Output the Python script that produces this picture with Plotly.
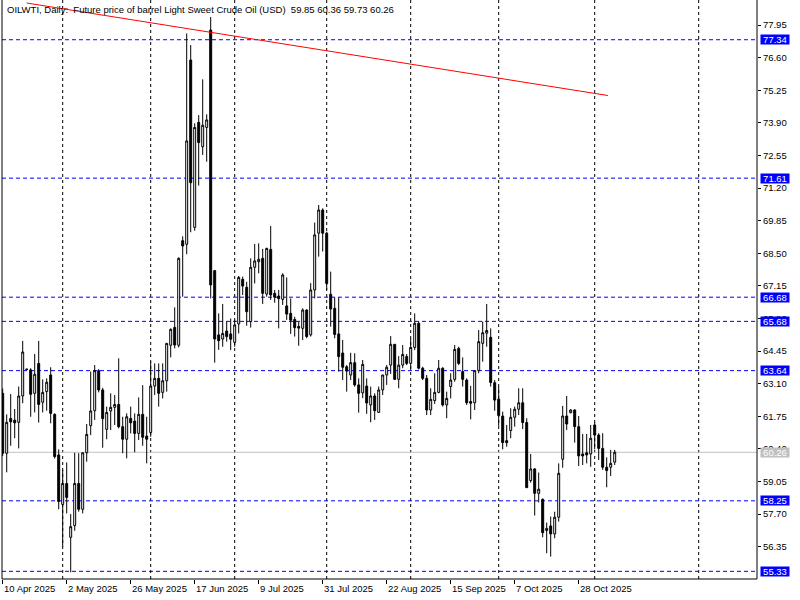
import plotly.graph_objects as go

# OHLC per daily bar (bar index 0 = 10 Apr 2025)
open_ = [62.70, 60.22, 61.66, 61.59, 61.50, 62.59, 63.70, 63.67, 62.70, 63.94,
         62.33, 62.77, 63.46, 61.83, 60.15, 58.10, 58.97, 56.74, 57.22, 58.97,
         57.90, 60.24, 61.36, 61.98, 63.64, 62.84, 61.21, 61.97, 62.12, 62.24,
         61.32, 60.80, 61.66, 61.55, 61.04, 61.83, 60.93, 61.08, 63.00, 63.32,
         62.74, 63.22, 64.69, 65.43, 64.69, 69.02, 68.87, 76.50, 69.57, 73.92,
         72.91, 73.71, 77.74, 67.78, 65.12, 64.95, 65.28, 65.16, 64.81, 65.57,
         67.42, 67.09, 65.67, 67.92, 68.15, 68.29, 66.81, 68.66, 66.84, 66.73,
         66.59, 66.32, 66.01, 65.76, 65.47, 65.39, 66.15, 65.12, 66.98, 69.33,
         70.29, 69.33, 66.80, 66.22, 65.16, 64.37, 63.80, 63.46, 63.97, 63.05,
         62.72, 63.00, 62.22, 62.59, 61.91, 62.84, 63.46, 63.87, 64.73, 63.28,
         63.87, 64.22, 63.94, 64.60, 65.60, 63.74, 63.32, 62.01, 62.40, 62.74,
         63.74, 62.22, 62.98, 63.28, 64.56, 63.60, 63.25, 62.36, 62.31, 63.64,
         64.77, 65.19, 65.02, 63.14, 62.46, 61.76, 60.74, 61.16, 61.71, 62.04,
         62.31, 61.49, 59.09, 59.57, 58.56, 58.31, 57.02, 57.21, 56.88, 57.57,
         59.97, 61.76, 61.90, 62.01, 61.32, 60.19, 60.24, 60.19, 61.39, 60.97,
         60.42, 59.64, 59.64, 59.85]
high = [62.90, 61.83, 62.67, 62.05, 62.98, 64.87, 63.72, 63.74, 64.33, 64.87,
        63.28, 63.32, 63.78, 61.87, 60.38, 59.53, 59.84, 57.70, 60.24, 60.22,
        60.24, 61.43, 63.60, 63.87, 63.70, 62.93, 62.15, 62.70, 62.63, 64.15,
        61.73, 61.87, 62.15, 61.87, 62.53, 63.04, 61.73, 64.01, 63.94, 63.94,
        63.94, 64.77, 65.39, 66.26, 68.33, 69.20, 77.60, 77.12, 73.88, 74.22,
        75.70, 74.25, 78.28, 67.81, 66.01, 66.40, 65.67, 65.80, 65.74, 67.56,
        67.53, 67.32, 68.29, 68.88, 68.91, 68.68, 68.73, 69.63, 66.98, 66.98,
        67.67, 67.50, 66.63, 65.87, 65.67, 66.22, 66.18, 67.26, 69.77, 70.50,
        70.36, 69.39, 67.74, 66.67, 66.67, 64.91, 63.87, 64.38, 64.36, 63.32,
        64.08, 63.32, 62.98, 62.70, 62.98, 63.46, 63.87, 65.07, 64.73, 64.24,
        64.70, 64.33, 64.98, 66.01, 65.67, 63.80, 63.46, 62.91, 63.53, 64.08,
        63.78, 62.77, 63.53, 64.70, 64.63, 64.19, 63.32, 63.01, 63.64, 65.32,
        65.67, 66.40, 65.39, 63.25, 62.98, 61.94, 61.39, 62.08, 62.15, 62.91,
        62.91, 61.67, 60.19, 59.60, 59.42, 58.35, 57.35, 57.60, 57.80, 59.80,
        62.18, 62.59, 62.04, 62.04, 61.76, 61.02, 61.02, 61.39, 61.49, 61.05,
        61.05, 60.05, 60.36, 60.36]
low = [60.10, 59.43, 60.53, 60.84, 60.42, 62.29, 63.66, 61.73, 61.91, 61.49,
       61.91, 61.98, 61.46, 60.00, 57.90, 56.35, 57.73, 55.29, 57.01, 57.80,
       57.73, 59.87, 60.97, 61.60, 62.74, 60.45, 60.80, 61.18, 61.39, 61.25,
       60.22, 60.01, 61.04, 60.26, 60.77, 60.53, 59.80, 60.90, 62.63, 62.15,
       62.49, 62.77, 64.19, 64.56, 64.60, 66.70, 68.46, 69.37, 69.43, 71.30,
       72.57, 72.29, 66.63, 63.97, 64.50, 64.63, 64.84, 64.49, 64.63, 65.18,
       66.77, 65.50, 65.42, 67.25, 67.67, 66.40, 66.70, 66.57, 66.45, 65.39,
       66.36, 65.74, 65.16, 65.05, 64.67, 64.91, 64.98, 65.05, 66.63, 68.36,
       68.57, 66.98, 65.46, 64.98, 63.60, 63.25, 62.77, 63.25, 62.97, 61.90,
       62.50, 61.85, 61.50, 61.60, 61.90, 62.63, 63.05, 63.50, 63.25, 62.91,
       63.74, 63.87, 63.67, 64.49, 63.69, 63.25, 61.80, 61.80, 62.26, 62.70,
       62.15, 61.67, 62.49, 63.18, 63.87, 62.98, 62.22, 61.62, 62.01, 63.53,
       64.01, 64.63, 62.98, 61.98, 61.35, 60.38, 60.49, 60.84, 61.32, 61.80,
       61.22, 58.77, 59.00, 57.64, 58.18, 56.74, 56.08, 55.94, 56.70, 57.39,
       59.62, 61.18, 61.87, 60.66, 59.69, 59.73, 59.80, 59.66, 60.38, 59.94,
       59.53, 58.81, 59.28, 59.73]
close = [60.22, 61.50, 61.52, 61.48, 62.59, 64.41, 63.69, 62.66, 63.49, 62.24,
         62.74, 63.16, 61.87, 60.08, 58.22, 58.97, 58.39, 57.18, 58.97, 57.90,
         60.24, 61.00, 61.97, 63.64, 62.84, 61.65, 61.91, 62.12, 62.24, 61.32,
         60.80, 61.73, 61.48, 61.04, 61.83, 60.88, 60.80, 63.00, 63.32, 62.70,
         63.22, 64.77, 65.35, 64.70, 68.29, 68.80, 73.15, 71.42, 73.71, 73.08,
         73.80, 74.02, 67.19, 64.95, 64.88, 65.18, 65.05, 64.94, 65.53, 67.50,
         67.14, 66.08, 67.92, 68.18, 68.25, 66.84, 68.70, 66.77, 66.68, 66.62,
         67.60, 65.98, 65.73, 65.42, 65.40, 66.15, 65.05, 66.98, 69.26, 70.29,
         69.33, 67.25, 66.19, 65.14, 64.22, 63.78, 63.62, 63.97, 63.05, 62.70,
         63.90, 62.30, 62.59, 61.98, 62.84, 63.46, 63.78, 64.73, 63.28, 63.87,
         64.31, 63.94, 64.60, 65.60, 63.74, 63.32, 62.01, 62.45, 62.74, 63.74,
         62.22, 62.49, 63.25, 64.52, 63.94, 63.28, 62.31, 62.29, 63.64, 64.84,
         65.21, 65.30, 63.15, 62.42, 61.78, 60.66, 60.66, 61.71, 62.04, 62.31,
         61.49, 58.80, 59.57, 58.56, 58.73, 56.93, 57.11, 56.88, 57.57, 59.39,
         61.76, 61.43, 62.01, 61.32, 60.11, 60.11, 60.15, 60.84, 60.97, 60.42,
         59.64, 59.50, 59.80, 60.26]

date_labels = ["10 Apr 2025", "2 May 2025", "26 May 2025", "17 Jun 2025", "9 Jul 2025",
               "31 Jul 2025", "22 Aug 2025", "15 Sep 2025", "7 Oct 2025", "28 Oct 2025"]
label_bars = [0, 16, 32, 48, 64, 80, 96, 112, 128, 144]
month_grid_bars = [15, 37, 58, 81, 102, 124, 148, 174]
price_ticks = [77.95, 76.60, 75.25, 73.90, 72.55, 71.20, 69.85, 68.50, 67.15,
               65.80, 64.45, 63.10, 61.75, 60.40, 59.05, 57.70, 56.35]
level_lines = [77.34, 71.61, 66.68, 65.68, 63.64, 58.25, 55.33]
bid_price = 60.26
trend_start = (6.0, 78.86)
trend_end = (151.3, 75.03)

FONT = "Liberation Sans"
FS = 9.5
BLUE = "#0000FF"

bars = list(range(len(close)))

fig = go.Figure()
fig.add_trace(go.Candlestick(
    x=bars, open=open_, high=high, low=low, close=close,
    increasing=dict(line=dict(color="black", width=1), fillcolor="white"),
    decreasing=dict(line=dict(color="black", width=1), fillcolor="black"),
    whiskerwidth=0, showlegend=False, hoverinfo="skip"))

shapes = []
for b in month_grid_bars:
    shapes.append(dict(type="line", xref="x", yref="paper", x0=b, x1=b, y0=0, y1=1,
                       line=dict(color="black", width=1, dash="3px,3px"), layer="below"))
for lv in level_lines:
    shapes.append(dict(type="line", xref="paper", yref="y", x0=0, x1=1, y0=lv, y1=lv,
                       line=dict(color=BLUE, width=1, dash="4px,3px"), layer="below"))
shapes.append(dict(type="line", xref="paper", yref="y", x0=0, x1=1, y0=bid_price, y1=bid_price,
                   line=dict(color="#C0C0C0", width=1), layer="below"))
shapes.append(dict(type="line", xref="x", yref="y", x0=trend_start[0], y0=trend_start[1],
                   x1=trend_end[0], y1=trend_end[1], line=dict(color="red", width=1)))
# frame: left, bottom, right
shapes.append(dict(type="line", xref="paper", yref="paper", x0=0, x1=0, y0=0, y1=1,
                   line=dict(color="black", width=1)))
shapes.append(dict(type="line", xref="paper", yref="paper", x0=0, x1=1, y0=0, y1=0,
                   line=dict(color="black", width=1)))
shapes.append(dict(type="line", xref="paper", yref="paper", x0=1, x1=1, y0=0, y1=1,
                   line=dict(color="black", width=1)))

annotations = [dict(text="OILWTI, Daily:  Future price of barrel Light Sweet Crude Oil (USD)  59.85 60.36 59.73 60.26",
                    xref="paper", yref="paper", x=0, y=1, xanchor="left", yanchor="top",
                    xshift=3, yshift=-2, showarrow=False, font=dict(family=FONT, size=FS, color="black"))]
for lbl, b in zip(date_labels, label_bars):
    annotations.append(dict(text=lbl, xref="x", yref="paper", x=b, y=0, xanchor="left", yanchor="top",
                            xshift=-1, yshift=-2, showarrow=False,
                            font=dict(family=FONT, size=FS, color="black")))
for lv in level_lines:
    annotations.append(dict(text=f"{lv:.2f}", xref="paper", yref="y", x=1, y=lv, xanchor="left",
                            yanchor="middle", xshift=3, showarrow=False, bgcolor=BLUE,
                            width=28, height=9, borderpad=0,
                            font=dict(family=FONT, size=FS, color="white")))
annotations.append(dict(text=f"{bid_price:.2f}", xref="paper", yref="y", x=1, y=bid_price, xanchor="left",
                        yanchor="middle", xshift=3, showarrow=False, bgcolor="#C0C0C0",
                        width=28, height=9, borderpad=0,
                        font=dict(family=FONT, size=FS, color="white")))

fig.update_layout(
    width=800, height=600,
    margin=dict(l=2, r=43, t=0, b=21),
    plot_bgcolor="white", paper_bgcolor="white",
    shapes=shapes, annotations=annotations,
    showlegend=False,
    xaxis=dict(range=[-0.175, 188.575], rangeslider=dict(visible=False), showgrid=False,
               zeroline=False, tickmode="array", tickvals=label_bars,
               ticktext=[""] * len(label_bars), ticks="outside", ticklen=4,
               tickcolor="black", showline=False, automargin=False),
    yaxis=dict(range=[55.013, 78.985], side="right", showgrid=False, zeroline=False,
               tickmode="array", tickvals=price_ticks,
               ticktext=[f"{v:.2f}" for v in price_ticks],
               ticks="outside", ticklen=3, tickcolor="black",
               tickfont=dict(family=FONT, size=FS, color="black"),
               showline=False, automargin=False),
)

# the page body has a default margin; drop it so the figure fills the window
fig.write_html("out.html", config={"displayModeBar": False},
               post_script="document.body.style.margin='0';document.body.style.overflow='hidden';")
